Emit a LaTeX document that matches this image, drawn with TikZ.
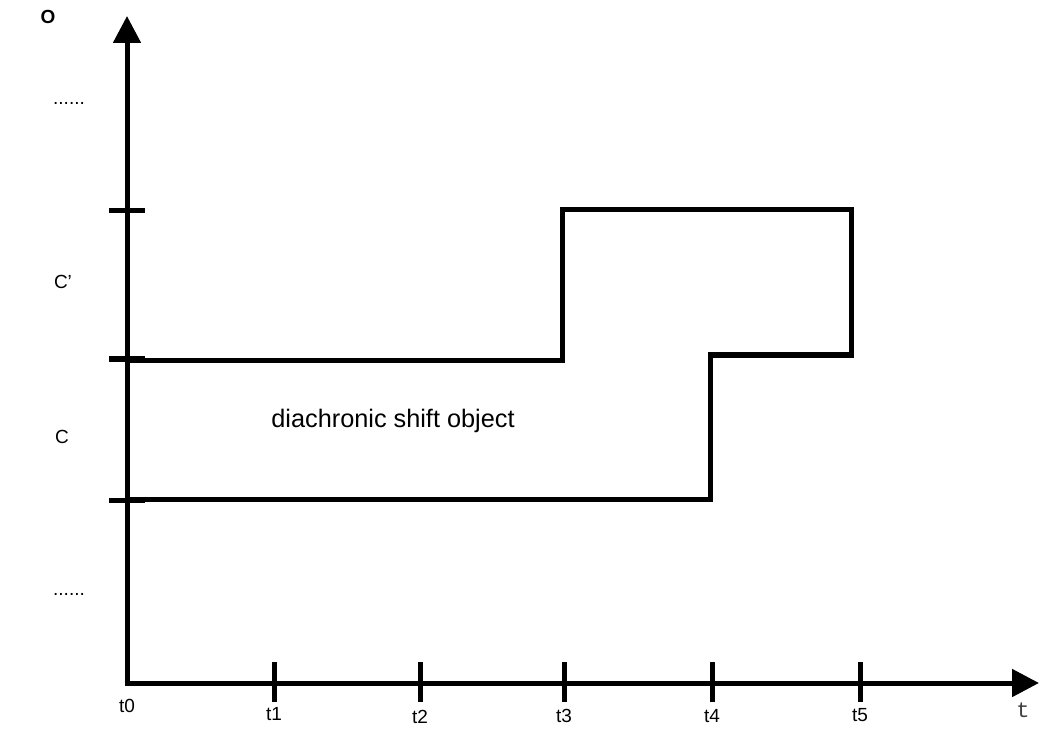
\documentclass[tikz,border=0pt]{standalone}
\usepackage{fontspec}
\setmainfont{Liberation Sans}
\newfontfamily\monofont{Liberation Mono}
\usetikzlibrary{arrows.meta}
\tikzset{
  axis/.style={line width=5pt, -{Triangle[length=27pt,width=27pt]}},
  tickmark/.style={line width=5pt},
  outline/.style={line width=5pt, line join=miter},
  lbl/.style={font=\fontsize{19}{21}\selectfont, inner sep=0pt},
  biglbl/.style={font=\fontsize{25.3}{28}\selectfont, inner sep=0pt}
}
\begin{document}
\begin{tikzpicture}[x=1pt,y=-1pt]
\useasboundingbox (0,0) rectangle (1039,743);
% axes
\coordinate (O) at (127,683);
\coordinate (ytip) at (127,16);
\coordinate (xtip) at (1039,683);
\draw[axis] (127,685.5) -- (ytip);
\draw[axis] (124.5,683) -- (xtip);
% y ticks
\foreach \n/\y in {a/211,b/359,c/500}{
  \coordinate (yl\n) at (109,\y);
  \coordinate (yr\n) at (145,\y);
  \draw[tickmark] (yl\n) -- (yr\n);
}
% x ticks
\foreach \n/\x in {1/274,2/420,3/564,4/712,5/860}{
  \coordinate (xt\n) at (\x,662);
  \coordinate (xb\n) at (\x,702);
  \draw[tickmark] (xt\n) -- (xb\n);
}
% shape
\coordinate (p1) at (127,360);
\coordinate (p2) at (562,360);
\coordinate (p3) at (562,210);
\coordinate (p4) at (851,210);
\coordinate (p5) at (851,355);
\coordinate (p6) at (710,355);
\coordinate (p7) at (710,499);
\coordinate (p8) at (127,499);
\draw[outline] (p1) -- (p2) -- (p3) -- (p4) -- (p5) -- (p6) -- (p7) -- (p8);
% labels
\node[lbl, font=\fontsize{19}{21}\selectfont\bfseries] (olab) at (48,17) {O};
\node[lbl] (dots1) at (69,103) {......};
\node[lbl] (cp) at (63,282) {C’};
\node[lbl] (c) at (62,437) {C};
\node[lbl] (dots2) at (69,594) {......};
\node[biglbl] (obj) at (393,421) {diachronic shift object};
\node[lbl] (t0) at (127,706) {t0};
\node[lbl] (t1) at (274,714) {t1};
\node[lbl] (t2) at (420,717) {t2};
\node[lbl] (t3) at (564,716) {t3};
\node[lbl] (t4) at (712,716) {t4};
\node[lbl] (t5) at (860,715) {t5};
\node[lbl, font=\fontsize{22}{24}\monofont, text=black!75] (tlab) at (1023,710) {t};
\end{tikzpicture}
\end{document}
